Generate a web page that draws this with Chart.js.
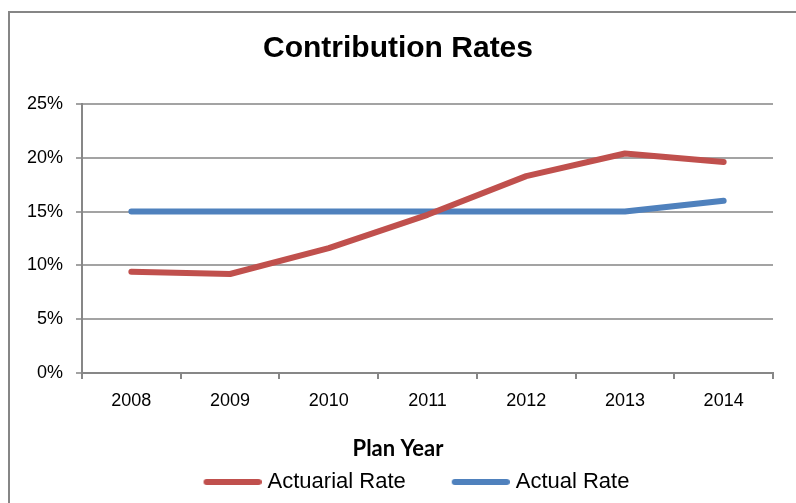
<!DOCTYPE html>
<html>
<head>
<meta charset="utf-8">
<script src="https://cdn.jsdelivr.net/npm/chart.js@4"></script>
<style>
    html, body { margin: 0; padding: 0; background: #fff; overflow: hidden; }
    #wrap { position: relative; width: 796px; height: 503px; }
    #frame { position: absolute; left: 8px; top: 11px; width: 900px; height: 600px;
             border-top: 2px solid #868686; border-left: 2px solid #868686; }
    canvas { position: absolute; left: 0; top: 0; }
</style>
</head>
<body>
<div id="wrap">
    <div id="frame"></div>
    <canvas id="chart" width="796" height="503"></canvas>
</div>
<script>
// Data
const years = ['2008', '2009', '2010', '2011', '2012', '2013', '2014'];
const actuarialRate = [9.4, 9.2, 11.6, 14.7, 18.3, 20.4, 19.6];
const actualRate = [15, 15, 15, 15, 15, 15, 16];
const yMin = 0;
const yMax = 25;
const yStep = 5;

const red = '#C0504D';
const blue = '#4F81BD';
const gridColor = '#a3a3a3';
const axisColor = '#878787';

// legend symbol: a thick line sitting at the right side of the legend box
function legendLine(color) {
    const c = document.createElement('canvas');
    c.width = 100;
    c.height = 10;
    const ctx = c.getContext('2d');
    ctx.strokeStyle = color;
    ctx.lineWidth = 6;
    ctx.lineCap = 'round';
    ctx.beginPath();
    ctx.moveTo(c.width - 55, 5);
    ctx.lineTo(c.width - 3, 5);
    ctx.stroke();
    return c;
}

const arial = '"Liberation Sans", Arial, sans-serif';

new Chart(document.getElementById('chart'), {
    type: 'line',
    data: {
        labels: years,
        datasets: [{
            label: 'Actuarial Rate',
            data: actuarialRate,
            borderColor: red,
            backgroundColor: red,
            borderWidth: 6,
            borderCapStyle: 'round',
            borderJoinStyle: 'round',
            pointRadius: 0,
            pointHoverRadius: 0,
            pointStyle: legendLine(red),
            tension: 0,
            fill: false
        }, {
            label: 'Actual Rate',
            data: actualRate,
            borderColor: blue,
            backgroundColor: blue,
            borderWidth: 6,
            borderCapStyle: 'round',
            borderJoinStyle: 'round',
            pointRadius: 0,
            pointHoverRadius: 0,
            pointStyle: legendLine(blue),
            tension: 0,
            fill: false
        }]
    },
    options: {
        responsive: false,
        animation: false,
        layout: { padding: { left: 23, right: 23, top: 0, bottom: 0 } },
        scales: {
            x: {
                offset: true,
                grid: { drawOnChartArea: false, offset: true, tickLength: 6, color: axisColor, lineWidth: 2 },
                border: { color: axisColor, width: 2 },
                ticks: { color: '#000', padding: 11, font: { family: arial, size: 18 } }
            },
            y: {
                min: yMin,
                max: yMax,
                afterFit: function (scale) { scale.width = 59; },
                grid: { color: gridColor, lineWidth: 2, tickLength: 6 },
                border: { color: axisColor, width: 2 },
                ticks: {
                    stepSize: yStep,
                    color: '#000',
                    padding: 13,
                    font: { family: arial, size: 18 },
                    callback: function (v) { return v + '%'; }
                }
            }
        },
        plugins: {
            title: {
                display: true,
                text: 'Contribution Rates',
                color: '#000',
                font: { family: arial, size: 30, weight: 'bold' },
                padding: { top: 30.5, bottom: 37.5 }
            },
            subtitle: {
                display: true,
                text: 'Plan Year',
                position: 'bottom',
                weight: 500,
                color: '#000',
                font: { family: 'Lato, "Open Sans", sans-serif', size: 22, weight: 'bold' },
                padding: { top: 13, bottom: 0 }
            },
            legend: {
                position: 'bottom',
                labels: {
                    usePointStyle: true,
                    pointStyleWidth: 90,
                    padding: 9,
                    color: '#000',
                    font: { family: arial, size: 22 }
                }
            },
            tooltip: { enabled: false }
        }
    }
});
</script>
</body>
</html>
